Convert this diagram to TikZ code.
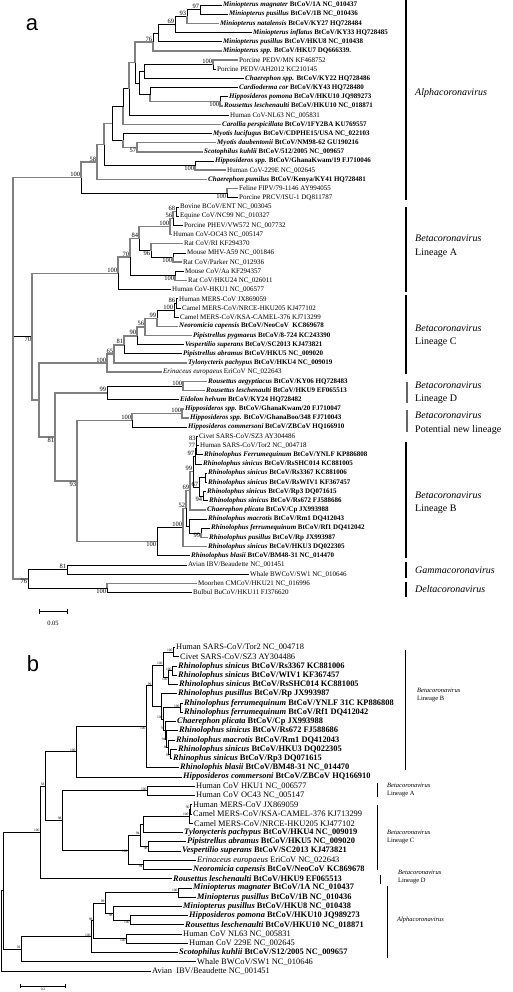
\documentclass[tikz,border=0pt]{standalone}
\usepackage{fontspec}
\setmainfont{Liberation Serif}
\setsansfont{Liberation Sans}
\usepackage{tikz}
\usetikzlibrary{positioning}

\newcommand{\bat}[2]{\textbf{\textit{#1} #2}}
\newcommand{\spn}[1]{\textit{#1}}

\tikzset{
  br/.style={draw=black, line width=0.7pt},
  gbr/.style={draw=black!50, line width=1.5pt},
  leafa/.style={anchor=west, inner xsep=1pt, inner ysep=0pt, font=\fontsize{7}{8}\selectfont},
  leafb/.style={anchor=west, inner xsep=1pt, inner ysep=0pt, font=\fontsize{8.4}{9}\selectfont},
  bsa/.style={inner sep=0.6pt, font=\fontsize{6.5}{7}\selectfont},
  bsb/.style={inner sep=0.4pt, font=\fontsize{3.6}{4}\selectfont},
  clade/.style={anchor=west, inner sep=0pt, font=\fontsize{10}{11}\selectfont},
  cladeb/.style={anchor=west, inner sep=0pt, font=\fontsize{6.5}{7}\selectfont},
  bar/.style={line width=1.6pt},
  barb/.style={line width=0.6pt},
  panel/.style={inner sep=0pt, font=\sffamily\fontsize{22}{22}\selectfont},
}

\begin{document}
\begin{tikzpicture}[x=1pt, y=-1pt]
  \fill[white] (0,0) rectangle (513,992);
  \useasboundingbox (0,0) rectangle (513,992);

  % panel letters
  \node[panel] (pa) at (32,25) {a};
  \node[panel] (pb) at (33,664) {b};

  % ---------------- tree a (y in rows) ----------------
  \begin{scope}[y=-9.18pt, shift={(0pt,4.18pt)}]
    \foreach \i/\x/\t in {
      1/222/{\bat{Miniopterus magnater}{BtCoV/1A NC\_010437}},
      2/228/{\bat{Miniopterus pusillus}{BtCoV/1B NC\_010436}},
      3/219/{\bat{Miniopterus natalensis}{BtCoV/KY27 HQ728484}},
      4/252/{\bat{Miniopterus inflatus}{BtCoV/KY33 HQ728485}},
      5/222/{\bat{Miniopterus pusillus}{BtCoV/HKU8 NC\_010438}},
      6/222/{\bat{Miniopterus spp.}{BtCoV/HKU7 DQ666339.}},
      7/238/{Porcine PEDV/MN KF468752},
      8/216/{Porcine PEDV/AH2012 KC210145},
      9/244/{\bat{Chaerephon spp.}{BtCoV/KY22 HQ728486}},
      10/238/{\bat{Cardioderma cor}{BtCoV/KY43 HQ728480}},
      11/228/{\bat{Hipposideros pomona}{BtCoV/HKU10 JQ989273}},
      12/223/{\bat{Rousettus leschenaulti}{BtCoV/HKU10 NC\_018871}},
      13/229/{Human CoV-NL63 NC\_005831},
      14/221/{\bat{Carollia perspicillata}{BtCoV/1FY2BA KU769557}},
      15/212/{\bat{Myotis lucifugus}{BtCoV/CDPHE15/USA NC\_022103}},
      16/216/{\bat{Myotis daubentonii}{BtCoV/NM98-62 GU190216}},
      17/203/{\bat{Scotophilus kuhlii}{BtCoV/512/2005 NC\_009657}},
      18/214/{\bat{Hipposideros spp.}{BtCoV/GhanaKwam/19 FJ710046}},
      19/226/{Human CoV-229E NC\_002645},
      20/207/{\bat{Chaerephon pumilus}{BtCoV/Kenya/KY41 HQ728481}},
      21/238/{Feline FIPV/79-1146 AY994055},
      22/238/{Porcine PRCV/ISU-1 DQ811787},
      23/179/{Bovine BCoV/ENT NC\_003045},
      24/179/{Equine CoV/NC99 NC\_010327},
      25/183/{Porcine PHEV/VW572 NC\_007732},
      26/172/{Human CoV-OC43 NC\_005147},
      27/183/{Rat CoV/RI KF294370},
      28/186/{Mouse MHV-A59 NC\_001846},
      29/182/{Rat CoV/Parker NC\_012936},
      30/184/{Mouse CoV/Aa KF294357},
      31/187/{Rat CoV/HKU24 NC\_026011},
      32/171/{Human CoV-HKU1 NC\_006577},
      33/178/{Human MERS-CoV JX869059},
      34/181/{Camel MERS-CoV/NRCE-HKU205 KJ477102},
      35/179/{Camel MERS-CoV/KSA-CAMEL-376 KJ713299},
      36/178/{\bat{Neoromicia capensis}{BtCoV/NeoCoV\ \ KC869678}},
      37/192/{\bat{Pipistrellus pygmaeus}{BtCoV/8-724 KC243390}},
      38/184/{\bat{Vespertilio superans}{BtCoV/SC2013 KJ473821}},
      39/182/{\bat{Pipistrellus abramus}{BtCoV/HKU5 NC\_009020}},
      40/187/{\bat{Tylonycteris pachypus}{BtCoV/HKU4 NC\_009019}},
      41/162/{\spn{Erinaceus europaeus} EriCoV NC\_022643},
      42/207/{\bat{Rousettus aegyptiacus}{BtCoV/KY06 HQ728483}},
      43/205/{\bat{Rousettus leschenaulti}{BtCoV/HKU9 EF065513}},
      44/179/{\bat{Eidolon helvum}{BtCoV/KY24 HQ728482}},
      45/184/{\bat{Hipposideros spp.}{BtCoV/GhanaKwam/20 FJ710047}},
      46/189/{\bat{Hipposideros spp.}{BtCoV/GhanaBoo/348 FJ710043}},
      47/187/{\bat{Hipposideros commersoni}{BtCoV/ZBCoV HQ166910}},
      48/198/{Civet SARS-CoV/SZ3 AY304486},
      49/199/{Human SARS-CoV/Tor2 NC\_004718},
      50/203/{\bat{Rhinolophus Ferrumequinum}{BtCoV/YNLF KP886808}},
      51/202/{\bat{Rhinolophus sinicus}{BtCoV/RsSHC014 KC881005}},
      52/207/{\bat{Rhinolophus sinicus}{BtCoV/Rs3367 KC881006}},
      53/207/{\bat{Rhinolophus sinicus}{BtCoV/RsWIV1 KF367457}},
      54/206/{\bat{Rhinolophus sinicus}{BtCoV/Rp3 DQ071615}},
      55/208/{\bat{Rhinolophus sinicus}{BtCoV/Rs672 FJ588686}},
      56/206/{\bat{Chaerephon plicata}{BtCoV/Cp JX993988}},
      57/207/{\bat{Rhinolophus macrotis}{BtCoV/Rm1 DQ412043}},
      58/210/{\bat{Rhinolophus ferrumequinum}{BtCoV/Rf1 DQ412042}},
      59/208/{\bat{Rhinolophus pusillus}{BtCoV/Rp JX993987}},
      60/207/{\bat{Rhinolophus sinicus}{BtCoV/HKU3 DQ022305}},
      61/190/{\bat{Rhinolophus blasii}{BtCoV/BM48-31 NC\_014470}},
      62/187/{Avian IBV/Beaudette NC\_001451},
      63/249/{Whale BWCoV/SW1 NC\_010646},
      64/197/{Moorhen CMCoV/HKU21 NC\_016996},
      65/192/{Bulbul BuCoV/HKU11 FJ376620}}
      \node[leafa] (a\i) at (\x,\i) {\t};

    % inner nodes: name/x/row
    \foreach \n/\x/\r in {n97/200/1.5, n93/187/2.25, n69/175/3.125, nm1/158/4.06,
      n76/153/5.03, nped/213/7.5, nch/144/8.25, nhk10/220/11.5, ncar/150/10.75,
      npc/139/9.5, nmp/135/7.27, nnl/129/10.13, ncl/123/12.07, n57/137/16.5,
      nmy/123/15.75, nmc/112/13.91, n229/195/18.5, n229b/104/16.2, n58/97/18.1,
      nfe/227/21.5, nal/81/19.8,
      n68/176/23.5, n56/173/24.25, n100A1/170/25.13, nmhv/173/28.5, nri/151/27.75,
      n84/139/26.44, naa/175/30.5, n70A/130/28.47, nA/118/30.24,
      n86/176/33.5, nmers/174/34.25, n99C/157/35.13, n56C/145/36.06, n90/137/37.03,
      n81C/124/38.02, n65/114/39.01, nC/107/40,
      nrou/183/42.5, nD/107/43.25, nhip/182/45.5, nNew/132/46.25,
      nb83/196.5/48.5, nb77/196/49.25, nb97/195/50.13, nbrs/205/52.5, nb94/203/54.5,
      nb67/199/53.5, nb99/193/51.8, nb69/190/53.9, nbrf/201/58.5, nbmac/189/57.75,
      nb52/186/55.83, nbh3/183/57.9, nB/157/59.45,
      n93b/77/52.85, nDNB/55/48.05, nCDNB/39/44.03, nbeta/32/37.13,
      nG/67/62.5, nDel/107/64.5, ngd/28/63.5, nroot/13/41.65}
      \coordinate (\n) at (\x,\r);

    % black branches
    \foreach \p/\c in {n97/a1, n97/a2, n93/n97, n69/n93, n69/a4, nm1/n69, nm1/a5,
      n76/nm1, nped/a8, nch/nped, nch/a9, npc/nch, ncar/a10, nhk10/a11, npc/ncar,
      nmp/npc, nnl/a13, ncl/nnl, nmc/ncl, nmy/a15, nmc/nmy, n229b/n229, n229/a18,
      nal/nfe, nfe/a22,
      nA/a32, n70A/naa, naa/a30, n84/nri, nri/nmhv, nmhv/a28, n56/a25, n68/a23, n68/a24,
      n81C/a39, n90/a38, n99C/nmers, nmers/n86, nmers/a35, n86/a33, n86/a34,
      nD/nrou, nD/a44, nNew/a47, nB/nbh3, nB/a61, nb52/nbmac, nbmac/a57, nbmac/nbrf,
      nbrf/a58, nb99/nb97, nb99/nb67, nb97/nb77, nb97/a51, nb77/nb83, nb77/a50,
      nb83/a48, nb83/a49, nb67/nbrs, nb67/nb94, nbrs/a52, nbrs/a53, nb94/a54, nb94/a55,
      nroot/nbeta, ngd/nG, ngd/nDel, nG/a62, nG/a63, nDel/a65}
      \draw[br] (\p) |- (\c);

    % grey branches
    \foreach \p/\c in {n93/a3, n76/a6, nmp/n76, nped/a7, ncar/nhk10, nhk10/a12,
      nnl/nmp, ncl/a14, nmy/n57, n57/a16, n57/a17, n229b/nmc, n229/a19, n58/n229b,
      n58/a20, nal/n58, nfe/a21, nroot/nal,
      nA/n70A, n70A/n84, naa/a31, n84/n100A1, nri/a27, nmhv/a29, n100A1/n56,
      n100A1/a26, n56/n68,
      nC/n65, nC/a41, n65/n81C, n65/a40, n81C/n90, n90/n56C, n56C/n99C, n56C/a37, n99C/a36,
      nbeta/nA, nbeta/nCDNB, nCDNB/nC, nCDNB/nDNB, nDNB/nD, nDNB/n93b, nrou/a42, nrou/a43,
      n93b/nNew, n93b/nB, nNew/nhip, nhip/a45, nhip/a46, nbh3/nb52, nbh3/a60,
      nb52/nb69, nbrf/a59, nb69/nb99, nb69/a56, nroot/ngd, nDel/a64}
      \draw[gbr] (\p) |- (\c);

    % bootstrap values
    \foreach \n/\v in {n97/97, n93/93, n69/69, n76/76, nped/100, n58/58, nal/100,
      n68/68, n56/56, n100A1/100, n84/84, n70A/70, nA/100, n86/86, nmers/100,
      n99C/99, n56C/56, n90/90, n81C/81, n65/65, nC/100, nrou/100, nD/99, nhip/100,
      nNew/100, nb83/83, nb77/77, nb97/97, nb99/99, nb67/67, nb69/69, nb52/52,
      nbh3/100, nG/81}
      \node[bsa, anchor=south east] (L\n) at (\n) {\v};
    \foreach \n/\v in {nhk10/100, n57/57, n229/100, nfe/100, nri/96, nmhv/100,
      naa/100, nb94/94, nbrf/99, nB/100, n93b/93, nDNB/81, nbeta/70, ngd/76, nDel/100}
      \node[bsa, anchor=north east] (L\n) at (\n) {\v};
  \end{scope}

  % clade bars a
  \draw[bar] (406,0) -- (406,200);
  \draw[bar] (406,207) -- (406,292);
  \draw[bar] (406,295) -- (406,374);
  \draw[bar, black!60] (407,382) -- (407,403);
  \draw[bar, black!60] (407,410) -- (407,432);
  \draw[bar] (406,442) -- (406,558);
  \draw[bar] (406,562) -- (406,578);
  \draw[bar] (406,582) -- (406,597);

  \node[clade] (cAl) at (415,93) {\textit{Alphacoronavirus}};
  \node[clade] (cA1) at (415,238) {\textit{Betacoronavirus}};
  \node[clade] (cA2) at (415,253) {Lineage A};
  \node[clade] (cC1) at (415,328) {\textit{Betacoronavirus}};
  \node[clade] (cC2) at (415,342) {Lineage C};
  \node[clade] (cD1) at (415,385) {\textit{Betacoronavirus}};
  \node[clade] (cD2) at (415,399) {Lineage D};
  \node[clade] (cN1) at (415,415) {\textit{Betacoronavirus}};
  \node[clade] (cN2) at (415,430) {Potential new lineage};
  \node[clade] (cB1) at (415,495) {\textit{Betacoronavirus}};
  \node[clade] (cB2) at (415,509) {Lineage B};
  \node[clade] (cG) at (415,570) {\textit{Gammacoronavirus}};
  \node[clade] (cDe) at (415,589) {\textit{Deltacoronavirus}};

  % scale bar a
  \draw[br] (39,611) -- (67,611);
  \draw[br] (39,608.5) -- (39,613.5);
  \draw[br] (67,608.5) -- (67,613.5);
  \node[bsa] (sa) at (53,623) {0.05};

  % ---------------- tree b (y in rows) ----------------
  \begin{scope}[y=-9.24pt, shift={(0pt,-638.36pt)}]
    \foreach \i/\x/\t in {
      1/175/{Human SARS-CoV/Tor2 NC\_004718},
      2/179/{Civet SARS-CoV/SZ3 AY304486},
      3/177/{\bat{Rhinolophus sinicus}{BtCoV/Rs3367 KC881006}},
      4/177/{\bat{Rhinolophus sinicus}{BtCoV/WIV1 KF367457}},
      5/178/{\bat{Rhinolophus sinicus}{BtCoV/RsSHC014 KC881005}},
      6/177/{\bat{Rhinolophus pusillus}{BtCoV/Rp JX993987}},
      7/183/{\bat{Rhinolophus ferrumequinum}{BtCoV/YNLF 31C KP886808}},
      8/183/{\bat{Rhinolophus ferrumequinum}{BtCoV/Rf1 DQ412042}},
      9/176/{\bat{Chaerephon plicata}{BtCoV/Cp JX993988}},
      10/178/{\bat{Rhinolophus sinicus}{BtCoV/Rs672 FJ588686}},
      11/175/{\bat{Rhinolophus macrotis}{BtCoV/Rm1 DQ412043}},
      12/177/{\bat{Rhinolophus sinicus}{BtCoV/HKU3 DQ022305}},
      13/172/{\bat{Rhinophus sinicus}{BtCoV/Rp3 DQ071615}},
      14/179/{\bat{Rhinolophis blasii}{BtCoV/BM48-31 NC\_014470}},
      15/182/{\bat{Hipposideros commersoni}{BtCoV/ZBCoV HQ166910}},
      16/195/{Human CoV HKU1 NC\_006577},
      17/195/{Human CoV OC43 NC\_005147},
      18/192/{Human MERS-CoV JX869059},
      19/192/{Camel MERS-CoV/KSA-CAMEL-376 KJ713299},
      20/193/{Camel MERS-CoV/NRCE-HKU205 KJ477102},
      21/183/{\bat{Tylonycteris pachypus}{BtCoV/HKU4 NC\_009019}},
      22/186/{\bat{Pipistrellus abramus}{BtCoV/HKU5 NC\_009020}},
      23/181/{\bat{Vespertilio superans}{BtCoV/SC2013 KJ473821}},
      24/196/{\spn{Erinaceus europaeus} EriCoV NC\_022643},
      25/192/{\bat{Neoromicia capensis}{BtCoV/NeoCoV KC869678}},
      26/172/{\bat{Rousettus leschenaulti}{BtCoV/HKU9 EF065513}},
      27/192/{\bat{Miniopterus magnater}{BtCoV/1A NC\_010437}},
      28/196/{\bat{Miniopterus pusillus}{BtCoV/1B NC\_010436}},
      29/182/{\bat{Miniopterus pusillus}{BtCoV/HKU8 NC\_010438}},
      30/188/{\bat{Hipposideros pomona}{BtCoV/HKU10 JQ989273}},
      31/184/{\bat{Rousettus leschenaulti}{BtCoV/HKU10 NC\_018871}},
      32/182/{Human CoV NL63 NC\_005831},
      33/188/{Human CoV 229E NC\_002645},
      34/178/{\bat{Scotophilus kuhlii}{BtCoV/S12/2005 NC\_009657}},
      35/196/{Whale BWCoV/SW1 NC\_010646},
      36/151/{Avian\ \ IBV/Beaudette NC\_001451}}
      \node[leafb] (b\i) at (\x,\i) {\t};

    % inner nodes: name/x/row
    \foreach \n/\x/\r in {s1/173/1.5, s2/172/3.5, s3/168/4.25, s4/163/2.875,
      rf/180/7.5, h3/170/12.5, m86/168/11.75, m94/166/10.875, m91/165/9.94,
      m100/163/8.72, mrp/161/7.36, m99/152/5.12, m100b/146/9.56, LB/76/12.28,
      la/147/16.5, m90/190/18.5, m100c/189/19.25, m4/143/20.13, m98/148/22.5,
      m94c/140/21.31, mer/143/24.5, LC/128/22.9, AC/62/19.7, BAC/45/15.99,
      Beta/40/21, mm/178/27.5, h10/130/30.5, h8/113/29.75, m99a/105/28.63,
      nl/126/32.5, al98/93/30.56, al100/91/32.28, w92/21/33.64, r1/3/27.32, r0/1/31.66}
      \coordinate (\n) at (\x,\r);

    \foreach \p/\c in {s1/b1, s1/b2, s2/b3, s2/b4, s3/s2, s3/b5, s4/s1, s4/s3,
      rf/b7, rf/b8, h3/b12, h3/b13, m86/b11, m86/h3, m94/b10, m94/m86, m91/b9,
      m91/m94, m100/rf, m100/m91, mrp/b6, mrp/m100, m99/s4, m99/mrp, m100b/m99,
      m100b/b14, LB/m100b, LB/b15, la/b16, la/b17, m90/b18, m90/b19, m100c/m90,
      m100c/b20, m4/m100c, m4/b21, m98/b22, m98/b23, m94c/m4, m94c/m98, mer/b24,
      mer/b25, LC/m94c, LC/mer, AC/la, AC/LC, BAC/LB, BAC/AC, Beta/BAC, Beta/b26,
      mm/b27, mm/b28, h10/b30, h10/b31, h8/b29, h8/h10, m99a/mm, m99a/h8, nl/b32,
      nl/b33, al98/m99a, al98/nl, al100/al98, al100/b34, w92/al100, w92/b35,
      r1/Beta, r1/w92, r0/r1, r0/b36}
      \draw[br] (\p) |- (\c);

    % bootstrap values
    \foreach \n/\v in {s1/100, s2/100, s4/100, rf/100, m91/91, m100/100, m99/99,
      LB/100, la/100, m90/90, m100c/100, m94c/94, AC/98, BAC/58, Beta/100, mm/100,
      m99a/99, al98/98, al100/100, w92/92}
      \node[bsb, anchor=south east] (L\n) at (\n) {\v};
    \foreach \n/\v in {s3/100, h3/97, m100b/100, m98/98, mer/94, LC/100, h10/100,
      h8/98, nl/100}
      \node[bsb, anchor=north east] (L\n) at (\n) {\v};
    \foreach \n/\v in {m86/86, m94/94}
      \node[bsb, anchor=east] (L\n) at (\n) {\v};
  \end{scope}

  % clade bars b
  \draw[barb] (405,650) -- (405,770);
  \draw[barb] (377,783) -- (377,797);
  \draw[barb] (377,805) -- (377,870);
  \draw[barb] (380,875) -- (380,884);
  \draw[barb] (387,886) -- (387,958);

  \node[cladeb] (dB1) at (417,690) {\textit{Betacoronavirus}};
  \node[cladeb] (dB2) at (417,699) {Lineage B};
  \node[cladeb] (dA1) at (387,785) {\textit{Betacoronavirus}};
  \node[cladeb] (dA2) at (387,794) {Lineage A};
  \node[cladeb] (dC1) at (387,832) {\textit{Betacoronavirus}};
  \node[cladeb] (dC2) at (387,841) {Lineage C};
  \node[cladeb] (dD1) at (398,872) {\textit{Betacoronavirus}};
  \node[cladeb] (dD2) at (398,881) {Lineage D};
  \node[cladeb] (dAl) at (397,920) {\textit{Alphacoronavirus}};

  % scale bar b
  \draw[br] (20,986) -- (65,986);
  \draw[br] (20,984) -- (20,988);
  \draw[br] (65,984) -- (65,988);
  \node[bsb] (sb) at (43,989.5) {0.2};
\end{tikzpicture}
\end{document}
